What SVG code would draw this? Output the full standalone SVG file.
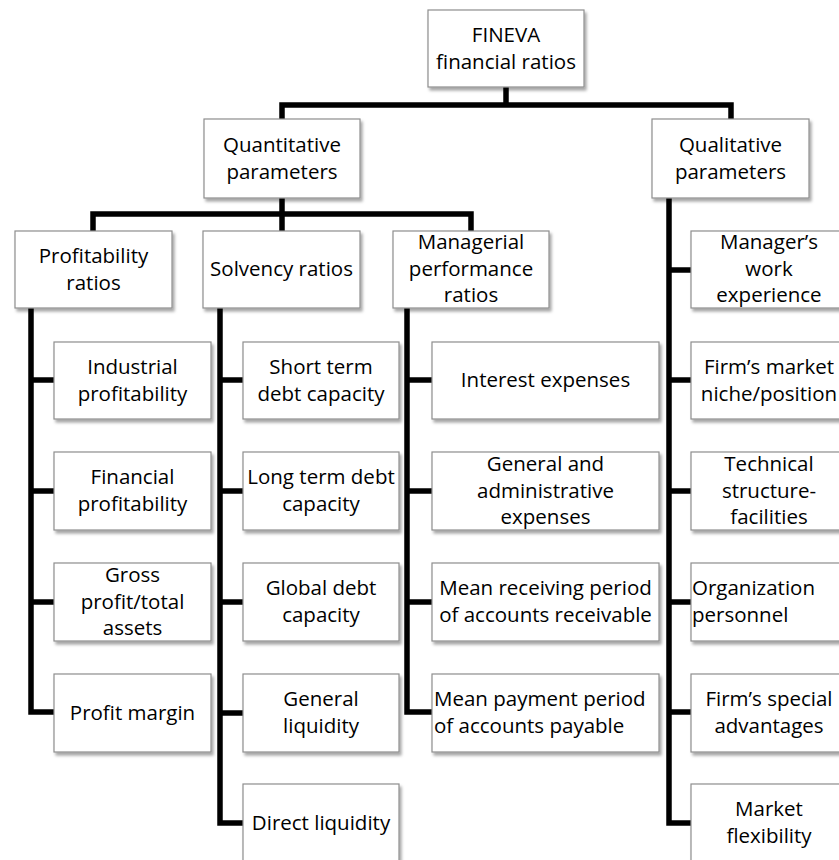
<svg xmlns="http://www.w3.org/2000/svg" width="839" height="860" viewBox="0 0 839 860">
  <defs>
    <filter id="shadow" x="-10%" y="-10%" width="125%" height="130%">
      <feDropShadow dx="2" dy="3" stdDeviation="1.8" flood-color="#000" flood-opacity="0.35"/>
    </filter>
  </defs>
  <style>
    .box { fill: #ffffff; stroke: #8e8e8e; stroke-width: 1.2; filter: url(#shadow); }
    .lbl { font-family: "Open Sans", "Liberation Sans", sans-serif; font-size: 20.5px; fill: #000; text-anchor: middle; }
    .left { text-anchor: start; }
    .conn { fill: none; stroke: #000; stroke-width: 5.5; stroke-linejoin: miter; stroke-linecap: butt; }
  </style>
  <rect width="839" height="860" fill="#ffffff"/>

  <!-- connectors -->
  <g id="connectors" class="conn">
    <path d="M506,87 V105"/>
    <path d="M282,119 V105 H731 V119"/>
    <path d="M282,198 V231"/>
    <path d="M93,231 V214 H471 V231"/>
    <!-- profitability branch -->
    <path d="M31,308 V712 H54"/>
    <path d="M31,380 H54 M31,491 H54 M31,602 H54"/>
    <!-- solvency branch -->
    <path d="M220,308 V823 H243"/>
    <path d="M220,380 H243 M220,491 H243 M220,602 H243 M220,713 H243"/>
    <!-- managerial branch -->
    <path d="M407,308 V712 H432"/>
    <path d="M407,380 H432 M407,491 H432 M407,602 H432"/>
    <!-- qualitative branch -->
    <path d="M669,198 V823 H691"/>
    <path d="M669,270 H691 M669,380 H691 M669,491 H691 M669,602 H691 M669,712 H691"/>
  </g>

  <!-- root -->
  <g id="fineva">
    <rect class="box" x="428" y="10" width="156" height="77"/>
    <text class="lbl" x="506" y="42">FINEVA</text>
    <text class="lbl" x="506" y="69">financial ratios</text>
  </g>

  <!-- level 1 -->
  <g id="quantitative">
    <rect class="box" x="204" y="119" width="156" height="79"/>
    <text class="lbl" x="282" y="152">Quantitative</text>
    <text class="lbl" x="282" y="179">parameters</text>
  </g>
  <g id="qualitative">
    <rect class="box" x="652" y="119" width="157" height="79"/>
    <text class="lbl" x="730.5" y="152">Qualitative</text>
    <text class="lbl" x="730.5" y="179">parameters</text>
  </g>

  <!-- level 2 -->
  <g id="profitability">
    <rect class="box" x="15" y="231" width="157" height="77"/>
    <text class="lbl" x="93.5" y="263">Profitability</text>
    <text class="lbl" x="93.5" y="290">ratios</text>
  </g>
  <g id="solvency">
    <rect class="box" x="203" y="231" width="157" height="77"/>
    <text class="lbl" x="281.5" y="276">Solvency ratios</text>
  </g>
  <g id="managerial">
    <rect class="box" x="393" y="231" width="156" height="77"/>
    <text class="lbl" x="471" y="249">Managerial</text>
    <text class="lbl" x="471" y="276">performance</text>
    <text class="lbl" x="471" y="302">ratios</text>
  </g>

  <!-- profitability ratios -->
  <g id="industrial">
    <rect class="box" x="54" y="342" width="157" height="77"/>
    <text class="lbl" x="132.5" y="374">Industrial</text>
    <text class="lbl" x="132.5" y="401">profitability</text>
  </g>
  <g id="financial">
    <rect class="box" x="54" y="452" width="157" height="78"/>
    <text class="lbl" x="132.5" y="484">Financial</text>
    <text class="lbl" x="132.5" y="511">profitability</text>
  </g>
  <g id="gross">
    <rect class="box" x="54" y="563" width="157" height="78"/>
    <text class="lbl" x="132.5" y="582">Gross</text>
    <text class="lbl" x="132.5" y="609">profit/total</text>
    <text class="lbl" x="132.5" y="635">assets</text>
  </g>
  <g id="margin">
    <rect class="box" x="54" y="674" width="157" height="78"/>
    <text class="lbl" x="132.5" y="720">Profit margin</text>
  </g>

  <!-- solvency ratios -->
  <g id="short-term">
    <rect class="box" x="243" y="342" width="156" height="77"/>
    <text class="lbl" x="321" y="374">Short term</text>
    <text class="lbl" x="321" y="401">debt capacity</text>
  </g>
  <g id="long-term">
    <rect class="box" x="243" y="452" width="156" height="78"/>
    <text class="lbl" x="321" y="484">Long term debt</text>
    <text class="lbl" x="321" y="511">capacity</text>
  </g>
  <g id="global-debt">
    <rect class="box" x="243" y="563" width="156" height="78"/>
    <text class="lbl" x="321" y="595">Global debt</text>
    <text class="lbl" x="321" y="622">capacity</text>
  </g>
  <g id="general-liquidity">
    <rect class="box" x="243" y="674" width="156" height="78"/>
    <text class="lbl" x="321" y="706">General</text>
    <text class="lbl" x="321" y="733">liquidity</text>
  </g>
  <g id="direct-liquidity">
    <rect class="box" x="243" y="784" width="156" height="80"/>
    <text class="lbl" x="321" y="830">Direct liquidity</text>
  </g>

  <!-- managerial performance ratios -->
  <g id="interest">
    <rect class="box" x="432" y="342" width="227" height="77"/>
    <text class="lbl" x="545.5" y="387">Interest expenses</text>
  </g>
  <g id="admin">
    <rect class="box" x="432" y="452" width="227" height="78"/>
    <text class="lbl" x="545.5" y="471">General and</text>
    <text class="lbl" x="545.5" y="498">administrative</text>
    <text class="lbl" x="545.5" y="524">expenses</text>
  </g>
  <g id="receiving">
    <rect class="box" x="432" y="563" width="227" height="78"/>
    <text class="lbl" x="545.5" y="595">Mean receiving period</text>
    <text class="lbl" x="545.5" y="622">of accounts receivable</text>
  </g>
  <g id="payment">
    <rect class="box" x="432" y="674" width="227" height="78"/>
    <text class="lbl left" x="434" y="706">Mean payment period</text>
    <text class="lbl left" x="434" y="733">of accounts payable</text>
  </g>

  <!-- qualitative parameters -->
  <g id="manager">
    <rect class="box" x="691" y="231" width="156" height="77"/>
    <text class="lbl" x="769" y="249">Manager’s</text>
    <text class="lbl" x="769" y="276">work</text>
    <text class="lbl" x="769" y="302">experience</text>
  </g>
  <g id="niche">
    <rect class="box" x="691" y="342" width="156" height="77"/>
    <text class="lbl" x="769" y="374">Firm’s market</text>
    <text class="lbl" x="769" y="401">niche/position</text>
  </g>
  <g id="technical">
    <rect class="box" x="691" y="452" width="156" height="78"/>
    <text class="lbl" x="769" y="471">Technical</text>
    <text class="lbl" x="769" y="498">structure-</text>
    <text class="lbl" x="769" y="524">facilities</text>
  </g>
  <g id="organization">
    <rect class="box" x="691" y="563" width="156" height="78"/>
    <text class="lbl left" x="692" y="595">Organization</text>
    <text class="lbl left" x="692" y="622">personnel</text>
  </g>
  <g id="special">
    <rect class="box" x="691" y="674" width="156" height="78"/>
    <text class="lbl" x="769" y="706">Firm’s special</text>
    <text class="lbl" x="769" y="733">advantages</text>
  </g>
  <g id="flexibility">
    <rect class="box" x="691" y="784" width="156" height="80"/>
    <text class="lbl" x="769" y="816">Market</text>
    <text class="lbl" x="769" y="843">flexibility</text>
  </g>
</svg>
